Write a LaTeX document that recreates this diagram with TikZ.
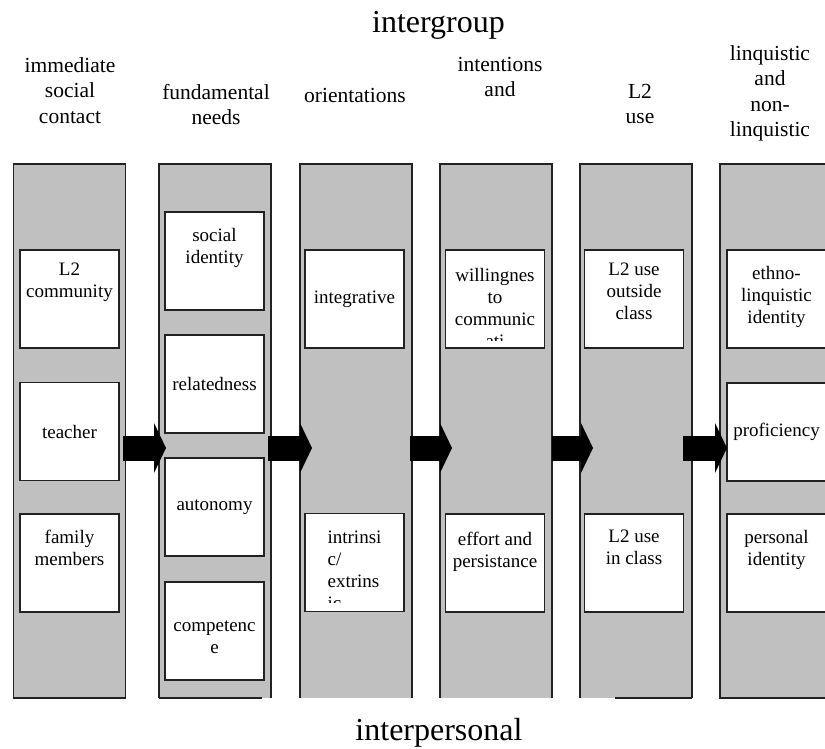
\documentclass[tikz,border=0pt]{standalone}
\usepackage{fontspec}
\setmainfont{Liberation Serif}
\usetikzlibrary{positioning,calc,arrows.meta}
\definecolor{colgrey}{RGB}{192,192,192}
\definecolor{edgegrey}{RGB}{34,34,34}
\newcommand{\itemfont}{\fontsize{19}{22}\selectfont}
\newcommand{\hdrfont}{\fontsize{21.5}{25.5}\selectfont}
\newcommand{\groupfont}{\fontsize{32}{36}\selectfont}

\begin{document}
\begin{tikzpicture}[x=1pt, y=-1pt,
    column/.style={rectangle, fill=colgrey, minimum width=112pt, minimum height=534pt, inner sep=0pt, outer sep=0pt},
    colline/.style={draw=edgegrey, line width=1.8pt},
    itembox/.style={rectangle, draw=edgegrey, fill=white, line width=1.5pt, minimum width=99pt, minimum height=98pt, inner sep=0pt, outer sep=0pt, align=center, font=\itemfont},
    itemtext/.style={anchor=north, inner sep=0pt, align=center, font=\itemfont, execute at begin node=\strut},
    header/.style={anchor=north, inner sep=0pt, align=center, font=\hdrfont, execute at begin node=\strut},
    grouplabel/.style={font=\groupfont, inner sep=0pt},
    flow/.style={line width=25pt, -{Triangle[length=12pt, width=50pt, line width=0pt]}}
]
    \useasboundingbox (0,0) rectangle (825,749);
    \clip (0,0) rectangle (825,749);

    % Group labels
    \node[grouplabel] (intergroup) at (438.5,25) {intergroup};
    \node[grouplabel] (interpersonal) at (439,733) {interpersonal};

    % Column headers
    \node[header] (h1) at (70,57) {immediate\\social\\contact};
    \node[header] (h2) at (216,84) {fundamental\\needs};
    \node[header] (h3) at (355,84) {orientations};
    \node[header] (h4) at (500,57) {intentions\\and};
    \node[header] (h5) at (640,84) {L2\\use};
    \node[header] (h6) at (770,45) {linquistic\\and\\non-\\linquistic};

    % Columns
    \node[column] (c1) at (69.5,431) {};
    \node[column] (c2) at (215,431) {};
    \node[column] (c3) at (356,431) {};
    \node[column] (c4) at (496,431) {};
    \node[column] (c5) at (636,431) {};
    \node[column] (c6) at (776,431) {};

    \draw[colline] (c1.south west) rectangle (c1.north east);
    \draw[colline] (c2.south west) |- (c2.north east) -- (c2.south east);
    \draw[colline] (c2.south west) -- ([xshift=-9pt]c2.south east);
    \draw[colline] (c3.south west) |- (c3.north east) -- (c3.south east);
    \draw[colline] (c4.south west) |- (c4.north east) -- (c4.south east);
    \draw[colline] (c5.south west) |- (c5.north east) -- (c5.south east);
    \draw[colline] ([xshift=35pt]c5.south west) -- (c5.south east);
    \draw[colline] (c6.south west) rectangle (c6.north east);

    % Column 1
    \node[itembox] (b11) at (69.5,299) {};
    \node[itemtext] (t11) at ([yshift=-13pt]b11.north) {L2\\community};
    \node[itembox] (b12) at (69.5,431.5) {teacher};
    \node[itembox] (b13) at (69.5,563) {};
    \node[itemtext] (t13) at ([yshift=-16pt]b13.north) {family\\members};

    % Column 2
    \node[itembox] (b21) at (214.5,261) {};
    \node[itemtext] (t21) at ([yshift=-16pt]b21.north) {social\\identity};
    \node[itembox] (b22) at (214.5,384) {relatedness};
    \node[itembox] (b23) at (214.5,507) {autonomy};
    \node[itembox] (b24) at (214.5,631) {};
    \node[itemtext] (t24) at ([yshift=-39pt]b24.north) {competenc\\e};

    % Column 3
    \node[itembox] (b31) at (354.5,299) {integrative};
    \node[itembox] (b32) at (354.5,562.5) {};
    \begin{scope}
        \clip ([xshift=1pt,yshift=-1pt]b32.north west) rectangle ([xshift=-1pt,yshift=9pt]b32.south east);
        \node[itemtext, align=left] (t32) at ([yshift=-17pt]b32.north) {intrinsi\\c/\\extrins\\ic};
    \end{scope}

    % Column 4
    \node[itembox] (b41) at (495,299) {};
    \begin{scope}
        \clip ([xshift=1pt,yshift=-1pt]b41.north west) rectangle ([xshift=-1pt,yshift=8pt]b41.south east);
        \node[itemtext] (t41) at ([yshift=-18pt]b41.north) {willingnes\\to\\communic\\ati};
    \end{scope}
    \node[itembox] (b42) at (495,563) {};
    \node[itemtext] (t42) at ([yshift=-18pt]b42.north) {effort and\\persistance};

    % Column 5
    \node[itembox] (b51) at (634,299) {};
    \node[itemtext] (t51) at ([yshift=-13pt]b51.north) {L2 use\\outside\\class};
    \node[itembox] (b52) at (634,563) {};
    \node[itemtext] (t52) at ([yshift=-16pt]b52.north) {L2 use\\in class};

    % Column 6
    \node[itembox] (b61) at (776.5,299) {};
    \node[itemtext] (t61) at ([yshift=-16pt]b61.north) {ethno-\\linquistic\\identity};
    \node[itembox] (b62) at (776.5,432) {proficiency};
    \node[itembox] (b63) at (776.5,563) {};
    \node[itemtext] (t63) at ([yshift=-16pt]b63.north) {personal\\identity};

    % Arrows between columns
    \draw[flow] ([xshift=-3pt,yshift=-17pt]c1.east) -- ([xshift=7pt,yshift=-17pt]c2.west);
    \draw[flow] ([xshift=-3pt,yshift=-17pt]c2.east) -- ([xshift=12pt,yshift=-17pt]c3.west);
    \draw[flow] ([xshift=-2pt,yshift=-17pt]c3.east) -- ([xshift=12pt,yshift=-17pt]c4.west);
    \draw[flow] ([yshift=-17pt]c4.east) -- ([xshift=13pt,yshift=-17pt]c5.west);
    \draw[flow] ([xshift=-9pt,yshift=-17pt]c5.east) -- ([xshift=7pt,yshift=-17pt]c6.west);
\end{tikzpicture}
\end{document}
